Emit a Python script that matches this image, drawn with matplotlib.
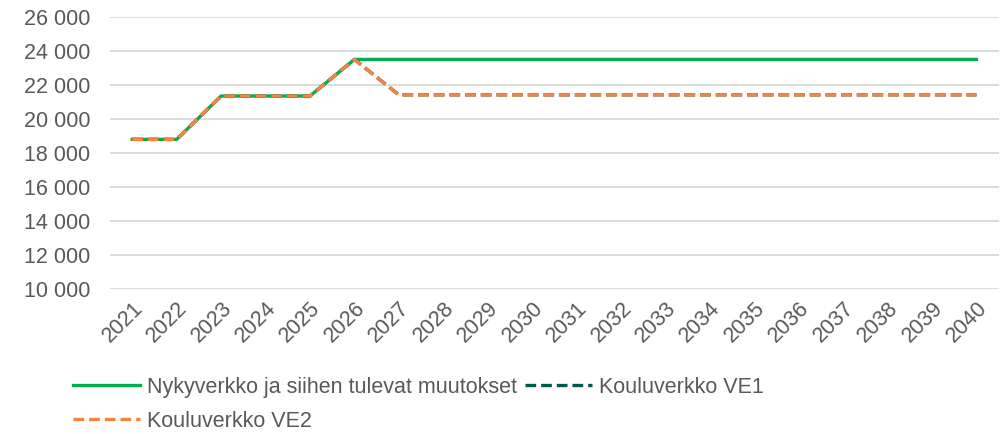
import numpy as np
import matplotlib.pyplot as plt
from matplotlib.ticker import FuncFormatter

plt.rcParams['font.family'] = ['Liberation Sans', 'DejaVu Sans']

years = [str(y) for y in range(2021, 2041)]
nykyverkko = [18800, 18800, 21350, 21350, 21350, 23500] + [23500] * 14
ve1 = [18800, 18800, 21350, 21350, 21350, 23500] + [21420] * 14
ve2 = [18800, 18800, 21350, 21350, 21350, 23500] + [21420] * 14

fig = plt.figure(figsize=(10.03, 4.34), dpi=100)
ax = fig.add_axes([0.1097, 0.334, 0.886, 0.627])

x = np.arange(len(years))
l1, = ax.plot(x, nykyverkko, color='#00B050', lw=2.4, label='Nykyverkko ja siihen tulevat muutokset')
l2, = ax.plot(x, ve1, color='#00594A', lw=2.4, ls=(0, (3.2, 1.5)), label='Kouluverkko VE1')
l3, = ax.plot(x, ve2, color='#F4853F', lw=2.4, ls=(0, (3.2, 1.5)), label='Kouluverkko VE2')

ax.set_xlim(-0.5, len(years) - 0.5)
ax.set_ylim(10000, 26000)
ax.set_yticks(range(10000, 26001, 2000))
ax.yaxis.set_major_formatter(FuncFormatter(lambda v, p: f'{int(v):,}'.replace(',', ' ')))
ax.set_xticks(x)
ax.set_xticklabels(years, rotation=45, ha='right', rotation_mode='anchor')

ax.grid(axis='y', color='#D9D9D9', lw=1.3)
ax.set_axisbelow(True)
for s in ax.spines.values():
    s.set_visible(False)
ax.tick_params(length=0, labelsize=15.5, colors='#595959')
ax.tick_params(axis='y', pad=14)
ax.tick_params(axis='x', pad=6)

fig.legend(handles=[l1, l3, l2], ncol=2, loc='upper left', bbox_to_anchor=(0.073, 0.132),
           frameon=False, fontsize=15.5, labelcolor='#595959', handlelength=3.1,
           handletextpad=0.33, columnspacing=0.37, labelspacing=0.6, borderpad=0, borderaxespad=0)

fig.savefig('out.png', dpi=100)
